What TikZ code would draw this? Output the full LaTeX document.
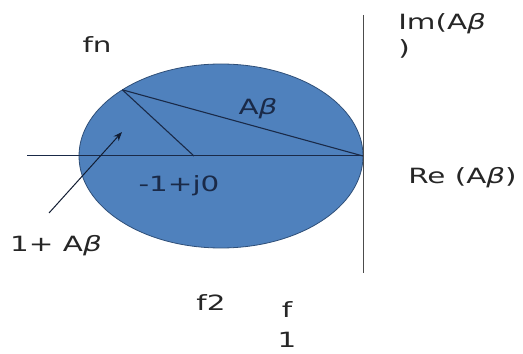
\documentclass[tikz,border=0pt]{standalone}
\usepackage{fontspec}
\setmainfont{DejaVu Sans}
\usetikzlibrary{arrows.meta,calc,positioning}
\definecolor{ellblue}{HTML}{4F81BD}
\definecolor{ellline}{HTML}{2F4F78}
\definecolor{navy}{HTML}{1A2A48}
\newcommand{\bet}{{\itshape β}}

\begin{document}
\begin{tikzpicture}[x=1pt,y=1pt,
    every node/.style={inner sep=0pt,font=\fontsize{21}{25}\selectfont,xscale=1.4},
    lbl/.style={anchor=base,text=black!85},
    inlbl/.style={anchor=base,text=navy}]
  \useasboundingbox (0,0) rectangle (523,354);
  % ellipse and points on it
  \draw[fill=ellblue,draw=ellline,line width=.8pt] (221,198) ellipse [x radius=142pt,y radius=92pt];
  \coordinate (P) at ($(221,198)+(134:142pt and 92pt)$);
  \coordinate (O) at (363,198);
  \coordinate (C) at (194,198);
  \coordinate (xl) at (27,198);
  \coordinate (vt) at (363,339);
  \coordinate (vb) at (363,81);
  \coordinate (as) at (49,141);
  \coordinate (ae) at (122,222);
  % axes
  \draw[black!70,line width=1pt] (vt) -- (vb);
  \draw[navy,line width=1pt] (xl) -- (O);
  \draw[navy,line width=1.1pt] (P) -- (O);
  \draw[navy,line width=1.1pt] (P) -- (C);
  \draw[navy!70!black,line width=1pt,-{Stealth[length=9pt,width=7pt]}] (as) -- (ae);
  % labels
  \node[lbl] (fn) at (97,301) {fn};
  \node[inlbl] (ab) at (258,239) {A\bet};
  \node[inlbl] (mo) at (179,162) {-1+j0};
  \node[lbl] (opab) at (56,102) {1+ A\bet};
  \node[lbl,anchor=base west] (im) at (398,324) {Im(A\bet};
  \node[lbl,anchor=base west] (imp) at (398,298) {)};
  \node[lbl,anchor=base west] (re) at (408,170) {Re (A\bet)};
  \node[lbl] (f2) at (211,43) {f2};
  \node[lbl] (f1a) at (287,36) {f};
  \node[lbl] (f1b) at (287,6) {1};
\end{tikzpicture}
\end{document}
